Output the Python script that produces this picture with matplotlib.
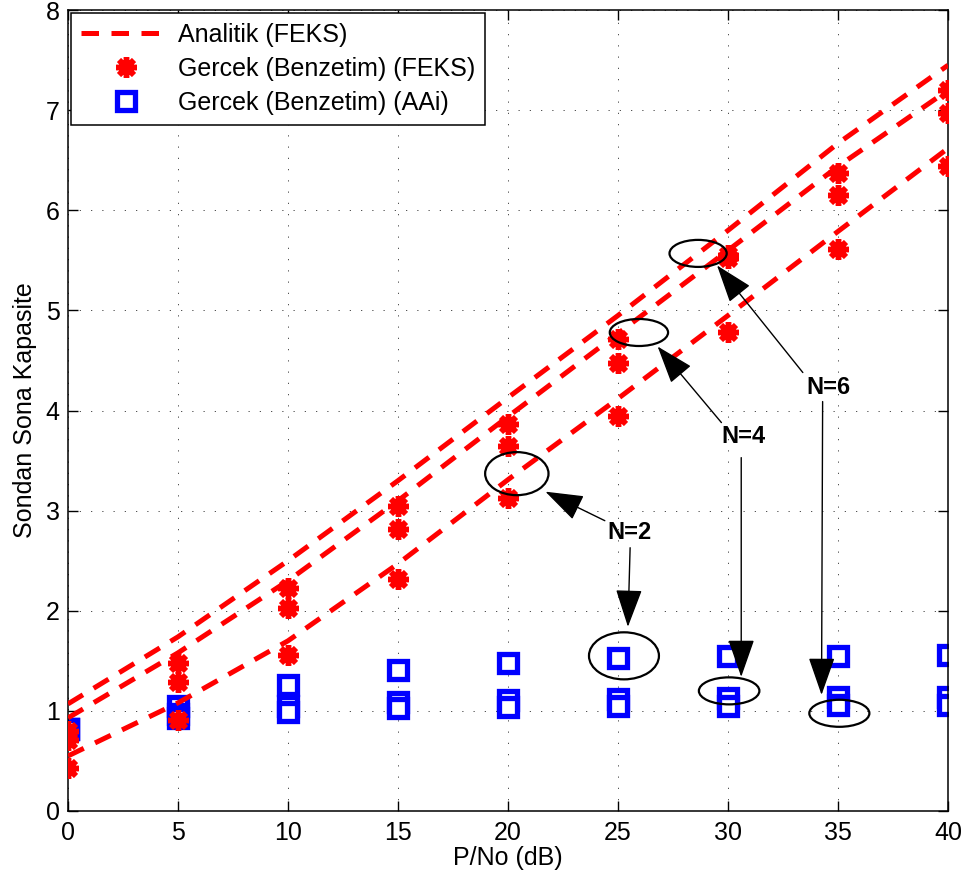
import matplotlib
matplotlib.use('Agg')
import matplotlib.pyplot as plt
from matplotlib.patches import Ellipse

plt.rcParams['font.family'] = ['Liberation Sans', 'DejaVu Sans']

snr = [0, 5, 10, 15, 20, 25, 30, 35, 40]

# analitik egriler (N=2, 4, 6)
analitik = {
    2: [0.55, 1.08, 1.70, 2.47, 3.31, 4.12, 4.95, 5.79, 6.62],
    4: [0.93, 1.58, 2.30, 3.10, 3.94, 4.77, 5.60, 6.44, 7.20],
    6: [1.07, 1.74, 2.50, 3.30, 4.13, 4.95, 5.80, 6.67, 7.45],
}

# benzetim (FEKS)
feks = {
    2: [0.43, 0.91, 1.56, 2.32, 3.13, 3.95, 4.78, 5.61, 6.44],
    4: [0.71, 1.29, 2.03, 2.82, 3.65, 4.48, 5.52, 6.15, 6.97],
    6: [0.80, 1.48, 2.23, 3.05, 3.87, 4.71, 5.55, 6.37, 7.20],
}

# benzetim (AAi)
aai = {
    2: [0.82, 1.05, 1.26, 1.41, 1.48, 1.53, 1.55, 1.55, 1.56],
    4: [0.82, 0.97, 1.05, 1.09, 1.11, 1.12, 1.13, 1.14, 1.14],
    6: [0.82, 0.93, 0.99, 1.03, 1.04, 1.05, 1.05, 1.06, 1.06],
}

fig = plt.figure(figsize=(9.66, 8.82), dpi=100)
ax = fig.add_axes([0.0704, 0.0805, 0.911, 0.908])

for i, n in enumerate([2, 4, 6]):
    ax.plot(snr, aai[n], linestyle='none', marker='s', ms=12.5, mew=3.8,
            mec='blue', mfc='white', zorder=2,
            label='Gercek (Benzetim) (AAi)' if i == 0 else None)
for i, n in enumerate([2, 4, 6]):
    ax.plot(snr, feks[n], linestyle='none', marker=(8, 2, 0), ms=15, mew=3.9,
            color='red', zorder=3,
            label='Gercek (Benzetim) (FEKS)' if i == 0 else None)
for i, n in enumerate([2, 4, 6]):
    ax.plot(snr, analitik[n], color='red', lw=3.6, dashes=(3.5, 2.5), zorder=4,
            label='Analitik (FEKS)' if i == 0 else None)

# elipsler
ellipses = [(20.4, 3.37, 2.88, 0.43), (25.95, 4.78, 2.65, 0.27), (28.64, 5.57, 2.6, 0.27),
            (25.27, 1.55, 3.18, 0.47), (30.05, 1.20, 2.75, 0.27), (35.06, 0.976, 2.73, 0.27)]
for cx, cy, w, h in ellipses:
    ax.add_patch(Ellipse((cx, cy), w, h, fill=False, ec='black', lw=1.6, zorder=5))

aprops = dict(arrowstyle='-|>,head_length=1.2,head_width=0.42', color='black', lw=1.0,
              shrinkA=0, shrinkB=0, mutation_scale=20)
labels = [('N=2', 25.5, 2.78, [((24.4, 2.90), (21.7, 3.19)), ((25.55, 2.63), (25.45, 1.84))]),
          ('N=4', 30.7, 3.74, [((29.7, 3.88), (26.8, 4.64)), ((30.6, 3.53), (30.6, 1.34))]),
          ('N=6', 34.55, 4.23, [((33.4, 4.38), (29.5, 5.45)), ((34.3, 4.09), (34.25, 1.16))])]
for txt, tx, ty, arrows in labels:
    ax.text(tx, ty, txt, fontsize=17, fontweight='bold', ha='center', va='center', zorder=6)
    for start, end in arrows:
        ax.annotate('', xy=end, xytext=start, arrowprops=aprops, zorder=6)

ax.set_xlim(0, 40)
ax.set_ylim(0, 8)
ax.set_xticks(range(0, 41, 5))
ax.set_yticks(range(0, 9))
ax.grid(True, color='#333333', lw=0.6, linestyle=(0, (1.5, 12)))
ax.tick_params(direction='in', length=7, width=1, labelsize=18, top=True, right=True)
ax.tick_params(axis='x', pad=7)
ax.tick_params(axis='y', pad=6)
for s in ax.spines.values():
    s.set_linewidth(1.1)
ax.set_xlabel('P/No (dB)', fontsize=18, labelpad=1)
ax.set_ylabel('Sondan Sona Kapasite', fontsize=18, labelpad=6)

h, l = ax.get_legend_handles_labels()
order = [2, 1, 0]
leg = ax.legend([h[i] for i in order], [l[i] for i in order], loc='upper left',
                fontsize=18, fancybox=False, edgecolor='black', framealpha=1,
                borderaxespad=0.1, handlelength=3.6, labelspacing=0.4,
                borderpad=0.4, handletextpad=0.3)
leg.get_frame().set_linewidth(1.1)
leg.set_zorder(10)

fig.savefig('out.png', dpi=100)
